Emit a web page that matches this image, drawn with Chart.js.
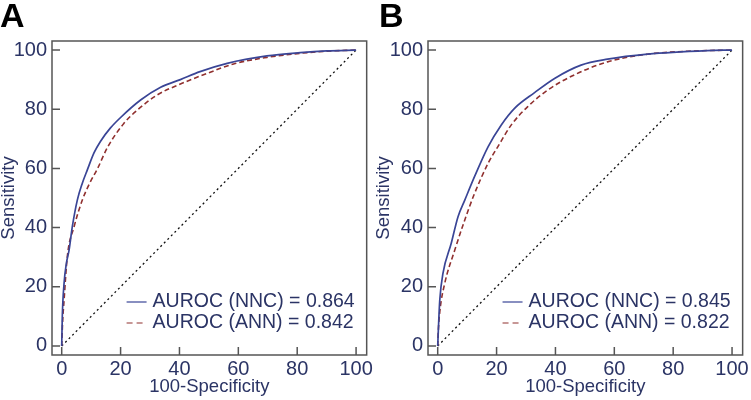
<!DOCTYPE html>
<html>
<head>
<meta charset="utf-8">
<script src="https://cdn.jsdelivr.net/npm/chart.js@4.4.1/dist/chart.umd.min.js"></script>
<style>
  body { margin: 0; background: #fff; }
  .wrap { display: flex; width: 751px; height: 400px; }
  canvas { display: block; }
</style>
</head>
<body>
<div class="wrap">
  <canvas id="chartA" width="375" height="400"></canvas>
  <canvas id="chartB" width="376" height="400"></canvas>
</div>
<script>
// ticks for both axes
const axisTicks = [0, 20, 40, 60, 80, 100];

// panel A
const nncAx = [0, 0.2, 0.8, 1.6, 2.5, 3.6, 5.3, 7, 8.7, 11, 13.2, 16.5, 20, 26.8, 33.6, 40.3, 47, 56.2, 69.7, 81, 90, 100];
const nncAy = [0, 10, 21.2, 28, 32.4, 40.3, 49.3, 55, 59.5, 65.3, 69.2, 73.6, 77.2, 83.1, 87.4, 90, 92.7, 95.5, 98, 99.1, 99.7, 100];
const annAx = [0, 0.3, 0.8, 1.9, 4.2, 7, 9.5, 12.1, 15.5, 21.1, 25.7, 32.4, 40.3, 49.4, 58.4, 69.7, 81, 90, 100];
const annAy = [0, 8, 15.5, 30.2, 40.3, 49.3, 55, 59.8, 67, 75.2, 79.7, 84.8, 88.5, 92.1, 95.3, 97.5, 98.9, 99.6, 100];
const legendA = ["AUROC (NNC) = 0.864", "AUROC (ANN) = 0.842"];

// panel B
const nncBx = [0, 0.2, 0.7, 1.8, 4.6, 6.9, 9.2, 12.5, 17.1, 21.6, 26.1, 32.9, 39.7, 48.7, 57.7, 71.3, 91.6, 100];
const nncBy = [0, 5, 15.5, 24.6, 34.7, 43.7, 49.3, 57.2, 67.3, 74.7, 80.3, 85.6, 90.4, 94.9, 96.9, 98.6, 99.8, 100];
const annBx = [0, 0.2, 0.7, 2.4, 5.8, 9.2, 12.3, 17.1, 20.4, 25, 30.6, 37.4, 46.4, 57.7, 71.3, 85, 100];
const annBy = [0, 5, 11.5, 21.2, 32.4, 42.6, 51, 61.7, 67.3, 74.7, 80.9, 86.5, 91.6, 96, 98.6, 99.6, 100];
const legendB = ["AUROC (NNC) = 0.845", "AUROC (ANN) = 0.822"];

// chance line
const diagX = [0, 100];
const diagY = [0, 100];

const textColor = "#2b3465";
const frameColor = "#555";
const nncColor = "#3a4596";
const annColor = "#90302f";
const fontFamily = "'Liberation Sans', Arial, sans-serif";

function zip(xs, ys) {
  return xs.map((x, i) => ({ x: x, y: ys[i] }));
}

// frame, inward ticks, panel letter and legend
const decorPlugin = {
  id: "decor",
  afterDraw(chart, args, opts) {
    const ctx = chart.ctx;
    const a = chart.chartArea;
    const xs = chart.scales.x;
    const ys = chart.scales.y;
    ctx.save();
    ctx.strokeStyle = frameColor;
    ctx.lineWidth = 1.5;
    ctx.strokeRect(a.left, a.top, a.right - a.left, a.bottom - a.top);
    ctx.beginPath();
    axisTicks.forEach((v) => {
      const px = xs.getPixelForValue(v);
      ctx.moveTo(px, a.bottom);
      ctx.lineTo(px, a.bottom - 8);
      const py = ys.getPixelForValue(v);
      ctx.moveTo(a.left, py);
      ctx.lineTo(a.left + 8, py);
    });
    ctx.stroke();

    // panel letter
    ctx.fillStyle = "#000";
    ctx.font = "bold 34px " + fontFamily;
    ctx.textBaseline = "alphabetic";
    ctx.fillText(opts.letter, opts.letterX, 27);

    // legend
    ctx.font = "19.5px " + fontFamily;
    ctx.textBaseline = "middle";
    const rows = [
      { text: opts.labels[0], color: nncColor, dash: [] },
      { text: opts.labels[1], color: annColor, dash: [6, 4] },
    ];
    const w = Math.max(...rows.map((r) => ctx.measureText(r.text).width));
    const tx = a.right - 12 - w;
    rows.forEach((r, i) => {
      const y = a.bottom - 53 + i * 21;
      ctx.strokeStyle = r.color;
      ctx.lineWidth = 1.2;
      ctx.setLineDash(r.dash);
      ctx.beginPath();
      ctx.moveTo(tx - 26, y);
      ctx.lineTo(tx - 6, y);
      ctx.stroke();
      ctx.setLineDash([]);
      ctx.fillStyle = textColor;
      ctx.fillText(r.text, tx, y);
    });
    ctx.restore();
  },
};

function makeChart(id, nnc, ann, labels, letter, letterX, yWidth, rightPad) {
  return new Chart(document.getElementById(id), {
    type: "line",
    data: {
      datasets: [
        {
          label: "NNC",
          data: nnc,
          borderColor: nncColor,
          borderWidth: 1.7,
          pointRadius: 0,
          cubicInterpolationMode: "monotone",
        },
        {
          label: "ANN",
          data: ann,
          borderColor: annColor,
          borderWidth: 1.6,
          borderDash: [5, 3],
          pointRadius: 0,
          cubicInterpolationMode: "monotone",
        },
        {
          label: "Chance",
          data: zip(diagX, diagY),
          borderColor: "#111",
          borderWidth: 1.3,
          borderDash: [2, 3],
          pointRadius: 0,
        },
      ],
    },
    options: {
      responsive: false,
      animation: false,
      layout: { padding: { top: 41, right: rightPad, left: 0, bottom: 0 } },
      plugins: {
        legend: { display: false },
        tooltip: { enabled: false },
        decor: { letter: letter, letterX: letterX, labels: labels },
      },
      scales: {
        x: {
          type: "linear",
          min: -3.3,
          max: 103.6,
          afterBuildTicks: (s) => { s.ticks = axisTicks.map((v) => ({ value: v })); },
          afterFit: (s) => { s.height = 45; },
          grid: { display: false, drawTicks: false },
          border: { display: false },
          ticks: {
            padding: 2,
            color: textColor,
            font: { family: fontFamily, size: 20 },
          },
          title: {
            display: true,
            text: "100-Specificity",
            color: textColor,
            padding: { top: 0, bottom: 2 },
            font: { family: fontFamily, size: 18.5, lineHeight: 1.2 },
          },
        },
        y: {
          type: "linear",
          min: -3.05,
          max: 103.05,
          afterBuildTicks: (s) => { s.ticks = axisTicks.map((v) => ({ value: v })); },
          afterFit: (s) => { s.width = yWidth; },
          grid: { display: false, drawTicks: false },
          border: { display: false },
          ticks: {
            padding: 5,
            color: textColor,
            font: { family: fontFamily, size: 20 },
          },
          title: {
            display: true,
            text: "Sensitivity",
            color: textColor,
            padding: { top: 0, bottom: 0 },
            font: { family: fontFamily, size: 18.5, lineHeight: 1 },
          },
        },
      },
    },
    plugins: [decorPlugin],
  });
}

makeChart("chartA", zip(nncAx, nncAy), zip(annAx, annAy), legendA, "A", 0, 52, 7);
makeChart("chartB", zip(nncBx, nncBy), zip(annBx, annBy), legendB, "B", 4, 53, 8);
</script>
</body>
</html>
